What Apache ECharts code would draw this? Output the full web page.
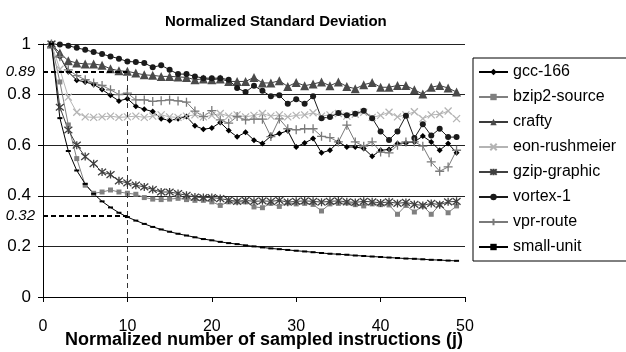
<!DOCTYPE html>
<html>
<head>
<meta charset="utf-8">
<title>Normalized Standard Deviation</title>
<script src="https://cdn.jsdelivr.net/npm/echarts/dist/echarts.min.js"></script>
<style>
  html, body { margin: 0; padding: 0; background: #fff; }
  #chart { width: 626px; height: 352px; }
</style>
</head>
<body>
<div id="chart"></div>
<script type="text/javascript">
// sampled instruction counts (j)
var jValues = [1,2,3,4,5,6,7,8,9,10,11,12,13,14,15,16,17,18,19,20,21,22,23,24,25,
  26,27,28,29,30,31,32,33,34,35,36,37,38,39,40,41,42,43,44,45,46,47,48,49];

var gcc166 = [1.0,0.95,0.89,0.857,0.85,0.84,0.82,0.797,0.775,0.784,0.754,0.742,0.733,0.705,0.698,0.705,0.713,0.677,0.663,0.668,
  0.69,0.658,0.633,0.651,0.62,0.607,0.636,0.646,0.657,0.593,0.609,0.626,0.57,0.58,0.613,0.593,0.593,0.587,0.556,0.58,
  0.583,0.607,0.609,0.613,0.636,0.613,0.58,0.607,0.57];
var bzip2Source = [1,0.85,0.68,0.547,0.442,0.41,0.415,0.423,0.415,0.41,0.406,0.393,0.387,0.385,0.387,0.39,0.385,0.382,0.382,0.376,
  0.362,0.376,0.376,0.376,0.356,0.353,0.37,0.358,0.372,0.368,0.37,0.366,0.34,0.368,0.37,0.372,0.365,0.36,0.368,0.365,
  0.364,0.327,0.362,0.336,0.36,0.327,0.365,0.333,0.36];
var crafty = [1,0.964,0.934,0.925,0.921,0.921,0.916,0.902,0.894,0.892,0.885,0.878,0.876,0.872,0.872,0.870,0.868,0.859,0.862,0.859,
  0.862,0.852,0.852,0.852,0.868,0.846,0.846,0.855,0.832,0.848,0.835,0.842,0.85,0.835,0.85,0.832,0.823,0.839,0.848,0.829,
  0.829,0.836,0.836,0.819,0.802,0.829,0.836,0.826,0.81];
var eonRushmeier = [1,0.90,0.79,0.73,0.712,0.71,0.712,0.715,0.71,0.712,0.715,0.71,0.715,0.72,0.712,0.71,0.715,0.72,0.712,0.718,
  0.725,0.715,0.72,0.712,0.718,0.725,0.715,0.72,0.712,0.718,0.72,0.728,0.715,0.72,0.725,0.715,0.722,0.73,0.71,0.718,
  0.73,0.712,0.72,0.732,0.705,0.72,0.722,0.735,0.705];
var gzipGraphic = [1,0.75,0.66,0.60,0.555,0.527,0.494,0.484,0.459,0.451,0.442,0.435,0.425,0.415,0.415,0.409,0.402,0.395,0.393,0.393,
  0.389,0.383,0.378,0.382,0.378,0.38,0.378,0.382,0.375,0.378,0.38,0.378,0.375,0.378,0.38,0.376,0.374,0.378,0.376,0.372,
  0.376,0.37,0.374,0.366,0.362,0.37,0.365,0.376,0.378];
var vortex1 = [1.0,0.998,0.993,0.985,0.977,0.968,0.96,0.951,0.942,0.931,0.929,0.925,0.908,0.916,0.898,0.881,0.881,0.872,0.865,0.865,
  0.865,0.859,0.826,0.81,0.835,0.815,0.793,0.797,0.764,0.782,0.764,0.793,0.707,0.711,0.727,0.718,0.724,0.736,0.707,0.654,
  0.621,0.654,0.716,0.628,0.683,0.638,0.665,0.632,0.632];
var vprRoute = [1,0.95,0.898,0.875,0.859,0.846,0.836,0.819,0.80,0.806,0.779,0.779,0.773,0.776,0.779,0.775,0.77,0.735,0.713,0.737,
  0.70,0.687,0.713,0.70,0.703,0.703,0.634,0.704,0.665,0.661,0.665,0.665,0.635,0.63,0.613,0.679,0.613,0.596,0.613,0.573,
  0.57,0.60,0.613,0.613,0.596,0.534,0.497,0.514,0.58];
var smallUnit = [1,0.707,0.577,0.5,0.447,0.408,0.378,0.354,0.333,0.316,0.302,0.289,0.277,0.267,0.258,0.25,0.243,0.236,0.229,0.224,
  0.218,0.213,0.209,0.204,0.2,0.196,0.192,0.189,0.186,0.183,0.18,0.177,0.174,0.171,0.169,0.167,0.164,0.162,0.16,0.158,
  0.156,0.154,0.152,0.151,0.149,0.147,0.146,0.144,0.143];

// guide lines: j = 10 and the two read-off values
var guideJ = 10;
var guideValues = [0.89, 0.32];

var FONT = 'Liberation Sans, Arial, sans-serif';

function pairs(vals) {
  return jValues.map(function (j, i) { return [j, vals[i]]; });
}

function mkSeries(name, vals, symbol, size, color, lineColor, stroked) {
  return {
    name: name,
    type: 'line',
    data: pairs(vals),
    symbol: symbol,
    symbolSize: size,
    showSymbol: true,
    itemStyle: stroked
      ? { color: 'transparent', borderColor: color, borderWidth: 1.3 }
      : { color: color, borderWidth: 0 },
    lineStyle: { color: lineColor, width: 1 },
    emphasis: { disabled: true }
  };
}

var X_PATH = 'path://M0,0L10,10M10,0L0,10';
var STAR_PATH = 'path://M0,0L10,10M10,0L0,10M5,-1L5,11';
var PLUS_PATH = 'path://M5,0L5,10M0,5L10,5';

var series = [
  mkSeries('gcc-166', gcc166, 'diamond', 6, '#000', '#000'),
  mkSeries('bzip2-source', bzip2Source, 'rect', 5, '#808080', '#808080'),
  mkSeries('crafty', crafty, 'triangle', 9, '#4a4a4a', '#3a3a3a'),
  mkSeries('eon-rushmeier', eonRushmeier, X_PATH, 7, '#b4b4b4', '#b4b4b4', true),
  mkSeries('gzip-graphic', gzipGraphic, STAR_PATH, 8, '#404040', '#404040', true),
  mkSeries('vortex-1', vortex1, 'circle', 6, '#1a1a1a', '#1a1a1a'),
  mkSeries('vpr-route', vprRoute, PLUS_PATH, 9, '#7a7a7a', '#7a7a7a', true),
  mkSeries('small-unit', smallUnit, 'rect', [5, 2], '#000', '#000')
];

// dashed guide lines
series.push({
  name: 'guides',
  type: 'line',
  data: [],
  silent: true,
  markLine: {
    silent: true,
    symbol: ['none', 'none'],
    animation: false,
    data: [
      [{ coord: [guideJ, 0], lineStyle: { type: [5, 4], width: 1, color: '#333' }, label: { show: false } },
       { coord: [guideJ, guideValues[0]] }],
      [{ coord: [0, guideValues[0]], lineStyle: { type: [5, 3], width: 2, color: '#000' },
         label: { show: true, position: 'start', distance: 8, formatter: String(guideValues[0]) } },
       { coord: [guideJ, guideValues[0]] }],
      [{ coord: [0, guideValues[1]], lineStyle: { type: [5, 3], width: 2, color: '#000' },
         label: { show: true, position: 'start', distance: 8, formatter: String(guideValues[1]) } },
       { coord: [guideJ, guideValues[1]] }]
    ],
    label: { fontFamily: FONT, fontStyle: 'italic', fontSize: 15, color: '#000' }
  }
});

var chart = echarts.init(document.getElementById('chart'), null, { renderer: 'canvas' });
chart.setOption({
  animation: false,
  backgroundColor: '#fff',
  textStyle: { fontFamily: FONT },
  title: {
    text: 'Normalized Standard Deviation',
    left: 160,
    top: 9,
    textStyle: { fontFamily: FONT, fontSize: 15, fontWeight: 'bold', color: '#000' }
  },
  legend: {
    data: ['gcc-166', 'bzip2-source', 'crafty', 'eon-rushmeier', 'gzip-graphic', 'vortex-1', 'vpr-route', 'small-unit'],
    orient: 'vertical',
    left: 473,
    top: 58,
    itemWidth: 29,
    itemHeight: 8,
    itemGap: 9,
    padding: [6, 12, 6, 5],
    borderColor: '#000',
    borderWidth: 1,
    backgroundColor: '#fff',
    textStyle: { fontFamily: FONT, fontSize: 16, color: '#000' }
  },
  grid: { left: 43, right: 161, top: 44, bottom: 55, containLabel: false, outerBoundsMode: 'none' },
  xAxis: {
    type: 'value',
    min: 0,
    max: 50,
    interval: 10,
    name: 'Normalized number of sampled instructions (j)',
    nameLocation: 'middle',
    nameGap: 34,
    nameMoveOverlap: false,
    nameTextStyle: { fontFamily: FONT, fontSize: 18, fontWeight: 'bold', color: '#000', padding: [0, 0, 0, 20] },
    axisLine: { lineStyle: { color: '#000', width: 1 } },
    axisTick: { show: true, length: 5, lineStyle: { color: '#000' } },
    axisLabel: { fontFamily: FONT, fontSize: 16, color: '#000', margin: 22 },
    splitLine: { show: false }
  },
  yAxis: {
    type: 'value',
    min: 0,
    max: 1,
    interval: 0.2,
    axisLine: { show: true, lineStyle: { color: '#000', width: 1 } },
    axisTick: { show: true, length: 5, lineStyle: { color: '#000' } },
    axisLabel: { fontFamily: FONT, fontSize: 17, color: '#000', margin: 12 },
    splitLine: { show: true, lineStyle: { color: '#222', width: 1 } }
  },
  series: series
});
</script>
</body>
</html>
